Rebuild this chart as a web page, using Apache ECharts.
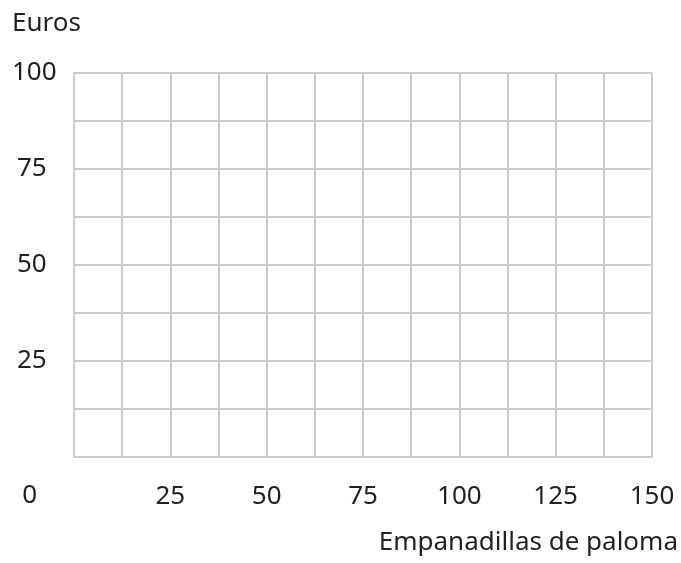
<!DOCTYPE html>
<html>
<head>
<meta charset="utf-8">
<script src="https://cdn.jsdelivr.net/npm/echarts@6/dist/echarts.min.js"></script>
<style>
  html, body { margin: 0; padding: 0; background: #ffffff; }
  #chart { width: 681px; height: 563px; }
</style>
</head>
<body>
<div id="chart"></div>
<script>
// Axis ranges and tick labels for the blank price grid
const xRange = [0, 150];
const yRange = [0, 100];
const gridStep = { x: 12.5, y: 12.5 };
const xTickLabels = [25, 50, 75, 100, 125, 150];
const yTickLabels = [25, 50, 75, 100];
const originLabel = '0';
const xTitle = 'Empanadillas de paloma';
const yTitle = 'Euros';

const FONT = 'Noto Sans';
const SIZE = 26;
const TEXT = '#231f20';
const LINE = '#cbcbcb';

const lineStyle = { color: LINE, width: 2 };

const chart = echarts.init(document.getElementById('chart'), null, { renderer: 'canvas' });

chart.setOption({
  backgroundColor: '#ffffff',
  animation: false,
  title: {
    text: yTitle,
    left: 7,
    top: 6,
    textStyle: { fontFamily: FONT, fontSize: SIZE, fontWeight: 'normal', color: TEXT }
  },
  grid: { left: 74, right: 29, top: 73, bottom: 106, containLabel: false },
  xAxis: {
    type: 'value',
    min: xRange[0],
    max: xRange[1],
    interval: gridStep.x,
    // the origin value sits apart, below and to the left of the corner
    name: '{o|' + originLabel + '}',
    nameLocation: 'start',
    nameGap: 37,
    nameTextStyle: {
      align: 'right',
      verticalAlign: 'top',
      rich: {
        o: { fontFamily: FONT, fontSize: SIZE, color: TEXT, padding: [26, 0, 0, 0] }
      }
    },
    axisLine: { show: true, lineStyle },
    axisTick: { show: false },
    splitLine: { show: true, lineStyle },
    axisLabel: {
      margin: 27,
      fontFamily: FONT, fontSize: SIZE, color: TEXT,
      formatter: v => (xTickLabels.includes(v) ? String(v) : '')
    }
  },
  yAxis: {
    type: 'value',
    min: yRange[0],
    max: yRange[1],
    interval: gridStep.y,
    axisLine: { show: true, lineStyle },
    axisTick: { show: false },
    splitLine: { show: true, lineStyle },
    axisLabel: {
      margin: 57,
      align: 'left',
      fontFamily: FONT, fontSize: SIZE, color: TEXT,
      formatter: v => (yTickLabels.includes(v) ? (v === 100 ? '{w|' + v + '}' : String(v)) : ''),
      rich: {
        w: { fontFamily: FONT, fontSize: SIZE, color: TEXT, padding: [0, 0, 0, -5] }
      }
    }
  },
  graphic: [{
    type: 'text',
    right: 3,
    top: 530,
    style: { text: xTitle, font: SIZE + 'px "' + FONT + '"', fill: TEXT }
  }],
  series: []
});
</script>
</body>
</html>
